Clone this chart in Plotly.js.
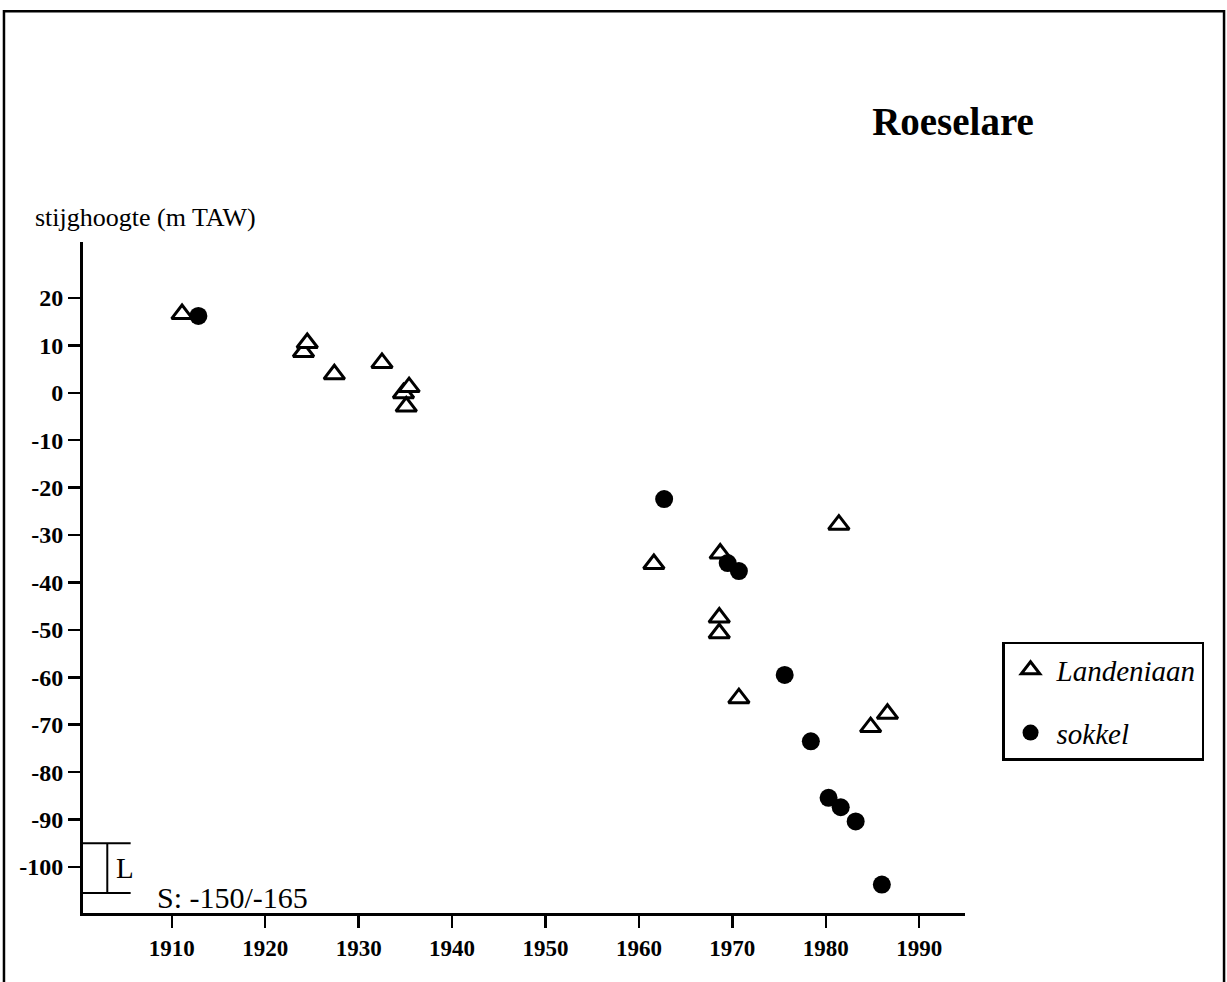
<!DOCTYPE html>
<html>
<head>
<meta charset="utf-8">
<script src="https://cdn.plot.ly/plotly-3.0.1.min.js"></script>
<style>
html,body{margin:0;padding:0;background:#fff;}
#chart{width:1227px;height:982px;}
</style>
</head>
<body>
<div id="chart"></div>
<script>
// ---- data ----
const landeniaanYears  = [1911.1, 1924.1, 1924.5, 1927.4, 1932.5, 1934.8, 1935.4, 1935.1, 1961.6, 1968.7, 1968.6, 1968.6, 1970.7, 1981.4, 1984.8, 1986.6];
const landeniaanLevels = [16.6, 8.6, 10.5, 3.9, 6.3, -0.1, 1.2, -2.9, -36.1, -33.9, -47.4, -50.7, -64.4, -27.8, -70.5, -67.7];
const sokkelYears  = [1912.85, 1962.7, 1969.5, 1970.7, 1975.6, 1978.4, 1980.3, 1981.6, 1983.2, 1986.0];
const sokkelLevels = [16.2, -22.4, -35.9, -37.6, -59.5, -73.5, -85.4, -87.4, -90.4, -103.7];
const xTickVals = [1910, 1920, 1930, 1940, 1950, 1960, 1970, 1980, 1990];
const yTickVals = [20, 10, 0, -10, -20, -30, -40, -50, -60, -70, -80, -90, -100];
const yTickText = ['20', '10', '0', '-10', '-20', '-30', '-40', '-50', '-60', '-70', '-80', '-90', '-100'];
const seriesNames = ['Landeniaan', 'sokkel'];
const chartTitle = 'Roeselare';
const yLabel = 'stijghoogte (m TAW)';
const layerLabel = 'L';
const sokkelNote = 'S: -150/-165';

const SERIF = '"Liberation Serif", "Times New Roman", serif';

const traces = [
  {
    x: landeniaanYears, y: landeniaanLevels, name: seriesNames[0],
    type: 'scatter', mode: 'markers', legendgroup: 'a',
    marker: {symbol: 'triangle-up', size: 18, color: '#ffffff', line: {color: '#000', width: 3}},
    hoverinfo: 'x+y'
  },
  {
    x: sokkelYears, y: sokkelLevels, name: seriesNames[1],
    type: 'scatter', mode: 'markers', legendgroup: 'b',
    marker: {symbol: 'circle', size: 18, color: '#000', line: {color: '#000', width: 0}},
    hoverinfo: 'x+y'
  }
];

// plot area: x 83..965 px, y 242..913 px
const layout = {
  width: 1227, height: 982,
  margin: {l: 83, r: 262, t: 242, b: 69, pad: 0},
  paper_bgcolor: '#fff', plot_bgcolor: '#fff',
  font: {family: SERIF, color: '#000'},
  title: {
    text: '<b>' + chartTitle + '</b>',
    font: {family: SERIF, size: 39, color: '#000'},
    xref: 'container', yref: 'container',
    x: 0.7767, xanchor: 'center', y: 0.8768, yanchor: 'middle'
  },
  xaxis: {
    range: [1900.5, 1994.9],
    tickmode: 'array', tickvals: xTickVals,
    showline: true, linecolor: '#000', linewidth: 3,
    ticks: 'outside', ticklen: 12, tickwidth: 2.5, tickcolor: '#000',
    showgrid: false, zeroline: false,
    tickfont: {family: SERIF, size: 23, color: '#000', weight: 'bold'},
    fixedrange: true
  },
  yaxis: {
    range: [-109.7, 31.8],
    tickmode: 'array', tickvals: yTickVals, ticktext: yTickText,
    showline: true, linecolor: '#000', linewidth: 3,
    ticks: 'outside', ticklen: 12, tickwidth: 2.5, tickcolor: '#000',
    showgrid: false, zeroline: false,
    tickfont: {family: SERIF, size: 24, color: '#000', weight: 'bold'},
    fixedrange: true
  },
  showlegend: true,
  legend: {
    x: 1.042, xanchor: 'left', y: 0.4039, yanchor: 'top',
    bordercolor: '#000', borderwidth: 2.5, bgcolor: '#fff',
    font: {family: SERIF, size: 29, style: 'italic', color: '#000'},
    tracegroupgap: 22, itemwidth: 42
  },
  annotations: [
    {text: yLabel, xref: 'paper', yref: 'paper', x: -0.0567, y: 1.0358,
     xanchor: 'left', yanchor: 'middle', showarrow: false,
     font: {family: SERIF, size: 26, color: '#000'}},
    {text: layerLabel, xref: 'paper', yref: 'paper', x: 0.0351, y: 0.0671,
     xanchor: 'left', yanchor: 'middle', showarrow: false,
     font: {family: SERIF, size: 29, color: '#000'}},
    {text: sokkelNote, xref: 'paper', yref: 'paper', x: 0.0816, y: 0.0238,
     xanchor: 'left', yanchor: 'middle', showarrow: false,
     font: {family: SERIF, size: 30, color: '#000'}}
  ],
  shapes: [
    // outer frame
    {type: 'rect', xref: 'paper', yref: 'paper', x0: -0.0896, x1: 1.2937, y0: -0.12, y1: 1.344,
     line: {color: '#000', width: 2.5}, layer: 'below'},
    // L bracket (Landeniaan layer range)
    {type: 'line', xref: 'x', yref: 'y', x0: 1900.5, x1: 1905.6, y0: -95, y1: -95, line: {color: '#000', width: 2}},
    {type: 'line', xref: 'x', yref: 'y', x0: 1900.5, x1: 1905.6, y0: -105.5, y1: -105.5, line: {color: '#000', width: 2}},
    {type: 'line', xref: 'x', yref: 'y', x0: 1903.1, x1: 1903.1, y0: -95, y1: -105.5, line: {color: '#000', width: 2}}
  ]
};

Plotly.newPlot('chart', traces, layout, {displayModeBar: false, staticPlot: true});
</script>
</body>
</html>
